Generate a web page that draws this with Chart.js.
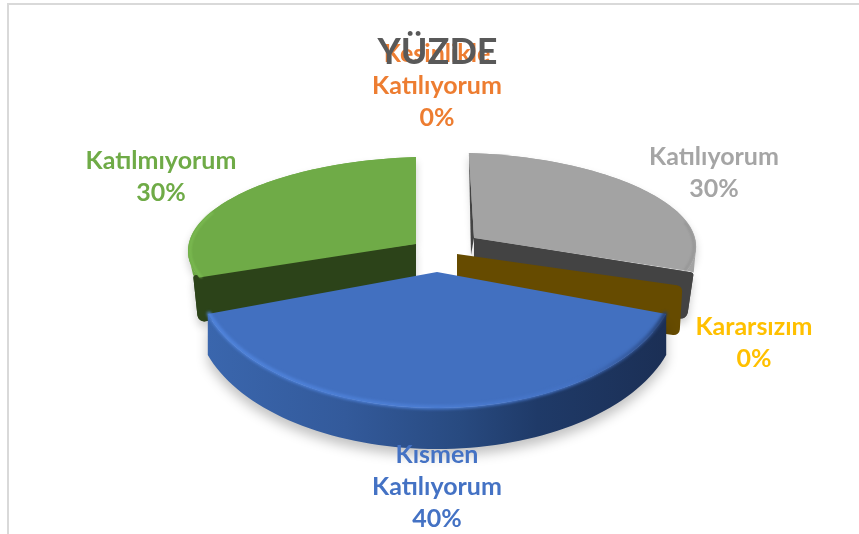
<!DOCTYPE html>
<html><head><meta charset="utf-8">
<script src="https://cdn.jsdelivr.net/npm/chart.js@4/dist/chart.umd.min.js"></script>
<style>html,body{margin:0;padding:0;background:#fff;overflow:hidden}canvas{display:block}</style>
</head><body><canvas id="c" width="859" height="534"></canvas>
<script>
const categories = ["Kesinlikle Katılıyorum","Katılıyorum","Kararsızım","Kısmen Katılıyorum","Katılmıyorum"];
const values = [0,30,0,40,30];
const labelLines = [["Kesinlikle","Katılıyorum"],["Katılıyorum"],["Kararsızım"],["Kısmen","Katılıyorum"],["Katılmıyorum"]];
const faceColors = ["#ed7d31","#a3a3a3","#ffc000","#4270c0","#6fab47"];
const wallColors = ["#8e4b1d","#434343","#664b00","#1d3461","#2c4319"];
const chartTitle = "YÜZDE";

// layout / style of the pseudo-3D view (not data)
const view = [
 null,
 {ax:474,ay:238,rx:222,ry:85,sh:0.06,t:0.03,depth:47,cx:7,cy:2,bx:-7},
 {ax:457,ay:254,rx:236,ry:100,sh:0,t:0,depth:50},
 {ax:437,ay:272,rx:241,ry:136,sh:0,t:0,depth:41},
 {ax:416,ay:244,rx:228,ry:87,sh:0,t:-0.03,depth:47,cx:-6,cy:-2,bx:5}
];
const labelPos = [{x:437,y:54},{x:714,y:157},{x:754,y:327},{x:437,y:454.5},{x:161,y:161}];
const lineGap = 32;
const labelFont = "bold 25px Lato";
const drawOrder = [4,1,2,3];

function matrixFor(arc,m){
  const sx=m.rx/arc.outerRadius, sy=m.ry/arc.outerRadius;
  const a=sx,b=m.t*sx,c=m.sh*sy,d=sy;
  return [a,b,c,d,m.ax-a*arc.x-c*arc.y,m.ay-b*arc.x-d*arc.y];
}
function project(arc,M,ang,rf){
  const x=arc.x+Math.cos(ang)*arc.outerRadius*rf, y=arc.y+Math.sin(ang)*arc.outerRadius*rf;
  return [M[0]*x+M[2]*y+M[4], M[1]*x+M[3]*y+M[5]];
}
function arcPts(arc,M,rf){
  const out=[],n=72;
  for(let i=0;i<=n;i++) out.push(project(arc,M,arc.startAngle+(arc.endAngle-arc.startAngle)*i/n,rf));
  return out;
}
function roundPoly(ctx,pts,rs){
  ctx.beginPath();
  const n=pts.length;
  const s=[(pts[n-1][0]+pts[0][0])/2,(pts[n-1][1]+pts[0][1])/2];
  ctx.moveTo(s[0],s[1]);
  for(let i=0;i<n;i++){const p=pts[i],q=pts[(i+1)%n];ctx.arcTo(p[0],p[1],q[0],q[1],rs[i]);}
  ctx.closePath();
}
function polyPath(ctx,pts){
  ctx.beginPath();pts.forEach((p,k)=>k?ctx.lineTo(p[0],p[1]):ctx.moveTo(p[0],p[1]));ctx.closePath();
}
function withShadow(ctx,fn,blur,dy,al){
  ctx.save();
  ctx.shadowColor="rgba(0,0,0,"+al+")";ctx.shadowBlur=blur;ctx.shadowOffsetX=0;ctx.shadowOffsetY=dy;
  fn();ctx.restore();
}
function rim(ctx,pts,stroke,w,blur){
  ctx.save();ctx.filter="blur("+blur+"px)";ctx.strokeStyle=stroke;ctx.lineWidth=w;ctx.lineCap="round";
  ctx.beginPath();pts.forEach((p,i)=>i?ctx.lineTo(p[0],p[1]):ctx.moveTo(p[0],p[1]));ctx.stroke();ctx.restore();
}
function drawLabel(ctx,i){
  const lines=labelLines[i].concat([values[i]+"%"]);
  ctx.save();ctx.font=labelFont;ctx.fillStyle=i===3?"#4472c4":(i===1?"#a5a5a5":faceColors[i]);
  ctx.textAlign="center";ctx.textBaseline="middle";
  lines.forEach((t,k)=>ctx.fillText(t,labelPos[i].x,labelPos[i].y+k*lineGap));
  ctx.restore();
}

const pie3d = {
  id:"pie3d",
  beforeDraw(chart){
    const ctx=chart.ctx;
    ctx.save();ctx.fillStyle="#d9d9d9";
    ctx.fillRect(7,3,852,2);ctx.fillRect(7,3,2,531);ctx.restore();
    drawLabel(ctx,0); // sits under the title, as in the original
  },
  beforeDatasetDraw(chart,args){
    const ctx=chart.ctx, arcs=args.meta.data;
    drawOrder.forEach(i=>{
      const arc=arcs[i], m=view[i], M=matrixFor(arc,m);
      if(i===2){
        const a=[m.ax,m.ay], b=project(arc,M,arc.startAngle,1);
        const b2=[b[0]+1,b[1]+1];
        ctx.fillStyle=wallColors[i];
        roundPoly(ctx,[a,b2,[b2[0]-3,b2[1]+m.depth],[a[0],a[1]+m.depth]],[0,6,6,0]);ctx.fill();
        return;
      }
      const top=arcPts(arc,M,1);
      if(i===3){
        const wall=top.concat(top.slice().reverse().map(p=>[p[0],p[1]+m.depth]));
        const g=ctx.createLinearGradient(top[top.length-1][0],0,top[0][0],0);
        g.addColorStop(0,"#3a66ad");g.addColorStop(.3,"#335a9b");g.addColorStop(.55,"#284a80");g.addColorStop(.72,"#1f3a68");g.addColorStop(1,"#1b2f55");
        withShadow(ctx,()=>{ctx.fillStyle=g;polyPath(ctx,wall);ctx.fill();},12,7,.24);
      }else{
        const c=[m.ax,m.ay];
        const raw=i===1?top[top.length-1]:top[0];
        const far=i===1?top[0]:top[top.length-1];
        const corner=[raw[0]+m.cx,raw[1]+m.cy];
        const dark=[c,corner,[corner[0]+m.bx,corner[1]+m.depth],[c[0],c[1]+m.depth]];
        const tip=(i===1?top.slice(-12):top.slice(0,12)).concat([corner]);
        withShadow(ctx,()=>{
          ctx.fillStyle=faceColors[i];ctx.beginPath();ctx.moveTo(c[0],c[1]);
          top.forEach(p=>ctx.lineTo(p[0],p[1]));ctx.closePath();ctx.fill();
          ctx.fillStyle=wallColors[i];roundPoly(ctx,dark,[0,3,7,0]);ctx.fill();
        },9,5,.2);
        ctx.fillStyle=faceColors[i];polyPath(ctx,tip);ctx.fill();
        ctx.fillStyle=wallColors[i];roundPoly(ctx,dark,[0,3,7,0]);ctx.fill();
        if(i===1){
          polyPath(ctx,[far,c,[c[0]-3,c[1]+17]]);ctx.fill();
        }
      }
      ctx.save();ctx.transform(M[0],M[1],M[2],M[3],M[4],M[5]);arc.draw(ctx);ctx.restore();
      if(i===3){
        const g=ctx.createLinearGradient(top[top.length-1][0],0,top[0][0],0);
        g.addColorStop(0,"#5084dc");g.addColorStop(.45,"#4c7ed4");g.addColorStop(.8,"#4472c4");g.addColorStop(.96,"#2f5190");g.addColorStop(1,"#233c6b");
        rim(ctx,arcPts(arc,M,0.995),g,4,1.5);
      }else if(i===4){
        rim(ctx,arcPts(arc,M,0.99).slice(0,30),"#7dbd53",2,1);
      }else{
        rim(ctx,arcPts(arc,M,0.99).slice(50),"#8f8f8f",1.5,1);
      }
    });
    return false;
  },
  afterDatasetsDraw(chart){
    for(let i=1;i<categories.length;i++) drawLabel(chart.ctx,i);
  }
};

new Chart(document.getElementById("c"),{
  type:"pie",
  data:{labels:categories,datasets:[{data:values,backgroundColor:faceColors,borderWidth:0}]},
  options:{
    responsive:false,animation:false,
    layout:{padding:{left:16,top:0}},
    events:[],
    plugins:{
      legend:{display:false},tooltip:{enabled:false},
      title:{display:true,text:chartTitle,color:"#595959",font:{family:"Lato",size:36,weight:"bold"},padding:{top:31,bottom:10}}
    }
  },
  plugins:[pie3d]
});
</script></body></html>
